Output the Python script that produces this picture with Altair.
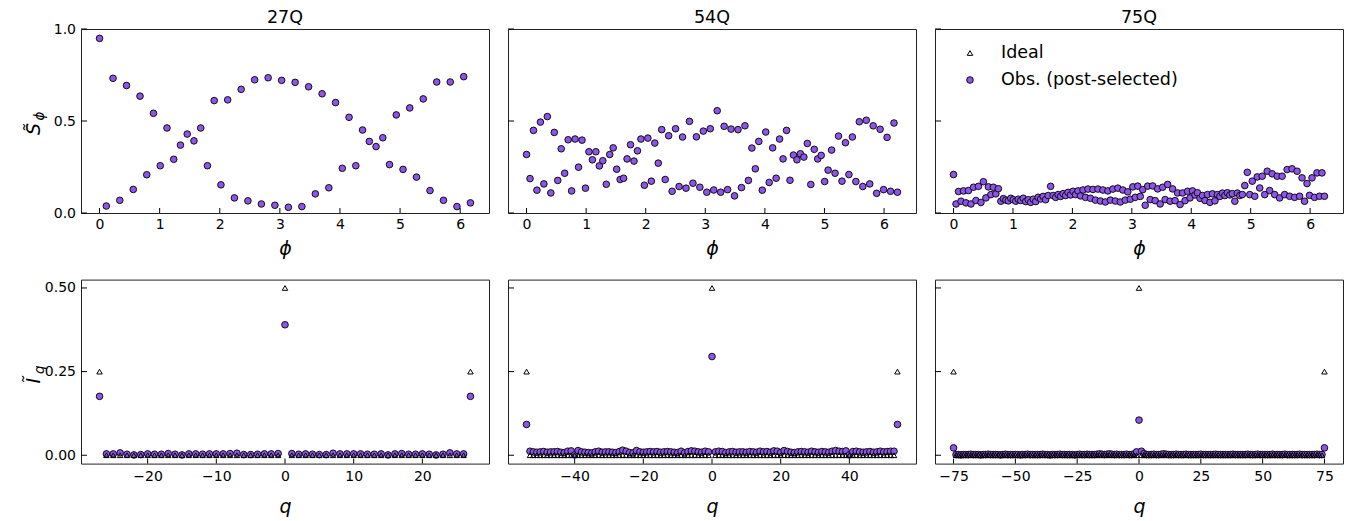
import altair as alt
import numpy as np
import pandas as pd

FONT = "DejaVu Sans"
PURPLE = "#8D55E8"
W, H = 408, 184

PANEL_TITLES = ["27Q", "54Q", "75Q"]
LEGEND_LABELS = ["Ideal", "Obs. (post-selected)"]

# ---- top row: S_phi observed (post-selected) ----
S27 = [0.949, 0.038, 0.732, 0.069, 0.693, 0.128, 0.635, 0.208, 0.542, 0.257,
       0.462, 0.292, 0.369, 0.429, 0.392, 0.462, 0.257, 0.611, 0.153, 0.615,
       0.082, 0.672, 0.066, 0.724, 0.049, 0.735, 0.042, 0.721, 0.031, 0.710,
       0.035, 0.686, 0.104, 0.648, 0.137, 0.600, 0.243, 0.520, 0.257, 0.451,
       0.389, 0.361, 0.409, 0.263, 0.533, 0.237, 0.571, 0.195, 0.620, 0.122,
       0.712, 0.069, 0.712, 0.035, 0.741, 0.055]

S54 = [0.318, 0.187, 0.449, 0.124, 0.494, 0.158, 0.524, 0.109, 0.438, 0.177,
       0.349, 0.216, 0.398, 0.120, 0.402, 0.249, 0.396, 0.135, 0.333, 0.289,
       0.333, 0.256, 0.284, 0.156, 0.318, 0.354, 0.238, 0.182, 0.189, 0.294,
       0.371, 0.282, 0.338, 0.402, 0.151, 0.407, 0.173, 0.380, 0.271, 0.453,
       0.182, 0.420, 0.118, 0.458, 0.144, 0.413, 0.135, 0.498, 0.162, 0.414,
       0.140, 0.445, 0.113, 0.458, 0.125, 0.556, 0.113, 0.471, 0.127, 0.456,
       0.093, 0.453, 0.138, 0.474, 0.177, 0.353, 0.240, 0.389, 0.124, 0.440,
       0.166, 0.354, 0.189, 0.402, 0.294, 0.449, 0.178, 0.315, 0.289, 0.322,
       0.304, 0.378, 0.155, 0.346, 0.294, 0.313, 0.171, 0.233, 0.342, 0.216,
       0.418, 0.173, 0.382, 0.209, 0.413, 0.171, 0.496, 0.144, 0.504, 0.158,
       0.474, 0.107, 0.455, 0.127, 0.411, 0.118, 0.489, 0.113]

S75 = [0.209, 0.049, 0.117, 0.064, 0.120, 0.055, 0.122, 0.049, 0.140, 0.068,
       0.145, 0.057, 0.170, 0.082, 0.142, 0.100, 0.140, 0.104, 0.132, 0.064,
       0.078, 0.070, 0.066, 0.080, 0.072, 0.064, 0.075, 0.068, 0.080, 0.062,
       0.072, 0.058, 0.075, 0.062, 0.085, 0.076, 0.090, 0.072, 0.095, 0.145,
       0.095, 0.085, 0.100, 0.090, 0.105, 0.095, 0.112, 0.098, 0.118, 0.100,
       0.120, 0.093, 0.125, 0.085, 0.130, 0.080, 0.128, 0.070, 0.130, 0.065,
       0.125, 0.060, 0.120, 0.070, 0.130, 0.065, 0.135, 0.060, 0.125, 0.070,
       0.115, 0.075, 0.142, 0.085, 0.146, 0.090, 0.127, 0.042, 0.146, 0.073,
       0.147, 0.067, 0.131, 0.049, 0.140, 0.073, 0.155, 0.064, 0.131, 0.067,
       0.109, 0.046, 0.109, 0.067, 0.118, 0.082, 0.120, 0.098, 0.110, 0.080,
       0.095, 0.068, 0.100, 0.058, 0.104, 0.066, 0.100, 0.090, 0.108, 0.095,
       0.110, 0.098, 0.105, 0.064, 0.108, 0.095, 0.100, 0.149, 0.221, 0.100,
       0.173, 0.091, 0.196, 0.136, 0.200, 0.100, 0.227, 0.122, 0.213, 0.100,
       0.200, 0.082, 0.200, 0.100, 0.236, 0.091, 0.240, 0.085, 0.227, 0.091,
       0.191, 0.064, 0.160, 0.096, 0.191, 0.085, 0.218, 0.091, 0.218, 0.091]

# ---- bottom row: I_q ----
# 27Q: q = -27..27
I27_EDGE, I27_CENTER = 0.176, 0.390
I27_NEG = [0.004, 0.004, 0.007, 0.003, 0.001, 0.002, 0.004, 0.003, 0.003, 0.005,
           0.003, 0.001, 0.004, 0.004, 0.003, 0.004, 0.004, 0.004, 0.005, 0.006,
           0.002, 0.002, 0.003, 0.004, 0.004, 0.005]
I27_POS = [0.005, 0.003, 0.004, 0.003, 0.002, 0.002, 0.006, 0.004, 0.004, 0.004,
           0.004, 0.003, 0.003, 0.004, 0.001, 0.004, 0.005, 0.003, 0.003, 0.004,
           0.003, 0.001, 0.003, 0.007, 0.004, 0.004]
# 54Q: q = -54..54
I54_EDGE, I54_CENTER = 0.092, 0.295
I54_NEG = [0.012, 0.010, 0.009, 0.010, 0.011, 0.009, 0.010, 0.010, 0.011, 0.009,
           0.008, 0.012, 0.013, 0.001, 0.014, 0.010, 0.009, 0.008, 0.007, 0.010,
           0.012, 0.009, 0.010, 0.010, 0.009, 0.008, 0.011, 0.015, 0.012, 0.008,
           0.007, 0.014, 0.010, 0.009, 0.010, 0.011, 0.010, 0.011, 0.009, 0.010,
           0.011, 0.010, 0.009, 0.008, 0.012, 0.007, 0.011, 0.013, 0.012, 0.010,
           0.009, 0.012, 0.010]
I54_POS = [0.010, 0.012, 0.011, 0.008, 0.010, 0.011, 0.009, 0.010, 0.010, 0.009,
           0.011, 0.010, 0.009, 0.012, 0.010, 0.011, 0.009, 0.013, 0.012, 0.008,
           0.014, 0.011, 0.009, 0.008, 0.010, 0.011, 0.010, 0.009, 0.012, 0.010,
           0.009, 0.011, 0.010, 0.009, 0.012, 0.014, 0.012, 0.011, 0.013, 0.001,
           0.011, 0.012, 0.010, 0.009, 0.010, 0.011, 0.009, 0.010, 0.012, 0.010,
           0.011, 0.012, 0.012]
# 75Q: q = -75..75
I75_EDGE, I75_CENTER = 0.022, 0.105
I75_NEG = [0.002, 0.002, 0.001, 0.002, 0.002, 0.002, 0.003, 0.002, 0.002, 0.002,
           0.001, 0.002, 0.002, 0.003, 0.002, 0.002, 0.002, 0.002, 0.001, 0.002,
           0.003, 0.002, 0.002, 0.002, 0.002, 0.002, 0.001, 0.002, 0.002, 0.003,
           0.002, 0.002, 0.002, 0.002, 0.002, 0.003, 0.002, 0.002, 0.001, 0.002,
           0.002, 0.002, 0.003, 0.002, 0.002, 0.002, 0.002, 0.002, 0.001, 0.002,
           0.003, 0.002, 0.002, 0.003, 0.002, 0.002, 0.002, 0.003, 0.004, 0.003,
           0.002, 0.003, 0.004, 0.003, 0.002, 0.003, 0.002, 0.002, 0.002, 0.003,
           0.002, 0.002, 0.004, 0.010]
I75_POS = [0.012, 0.005, 0.002, 0.002, 0.002, 0.003, 0.002, 0.002, 0.003, 0.004,
           0.003, 0.002, 0.002, 0.002, 0.003, 0.002, 0.002, 0.002, 0.003, 0.002,
           0.002, 0.002, 0.002, 0.002, 0.003, 0.002, 0.002, 0.002, 0.002, 0.002,
           0.003, 0.002, 0.002, 0.002, 0.002, 0.002, 0.002, 0.003, 0.002, 0.002,
           0.002, 0.002, 0.002, 0.003, 0.002, 0.002, 0.002, 0.003, 0.002, 0.002,
           0.002, 0.002, 0.002, 0.003, 0.002, 0.002, 0.002, 0.002, 0.003, 0.002,
           0.002, 0.002, 0.002, 0.002, 0.003, 0.002, 0.002, 0.002, 0.002, 0.002,
           0.002, 0.003, 0.002, 0.002]
IDEAL_EDGE, IDEAL_CENTER = 0.25, 0.5

TOP_XTICKS = [0, 1, 2, 3, 4, 5, 6]
BOT_XTICKS = [[-20, -10, 0, 10, 20], [-40, -20, 0, 20, 40], [-75, -50, -25, 0, 25, 50, 75]]
TOP_YTICKS = [0.0, 0.5, 1.0]
BOT_YTICKS = [0.0, 0.25, 0.5]


def phi_frame(vals):
    n = len(vals)
    return pd.DataFrame({"x": [2 * np.pi * k / n for k in range(n)], "y": vals})


def q_frame(Q, edge, center, neg, pos):
    q = list(range(-Q, Q + 1))
    obs = [edge] + neg + [center] + pos + [edge]
    ideal = [IDEAL_EDGE] + [0.0] * len(neg) + [IDEAL_CENTER] + [0.0] * len(pos) + [IDEAL_EDGE]
    return pd.DataFrame({"x": q, "y": obs, "ideal": ideal})


def text_layer(txt, x, y, size, italic=False, angle=0, align="center", baseline="middle"):
    return alt.Chart(pd.DataFrame({"t": [txt]})).mark_text(
        font=FONT, fontSize=size, fontStyle="italic" if italic else "normal",
        angle=angle, align=align, baseline=baseline, color="black"
    ).encode(x=alt.value(x), y=alt.value(y), text="t:N")


def panel(df, xdom, xticks, ydom, yticks, yfmt, xtitle, show_y, title=None,
          ideal=False, ytitle=None, legend=False, xtitle_pad=6, xlabel_pad=4.5):
    xaxis = alt.Axis(values=xticks, format="d", title=xtitle, titleFont=FONT,
                     titleFontStyle="italic", titleFontWeight="normal", titleFontSize=19,
                     titleColor="black", labelPadding=xlabel_pad, titlePadding=xtitle_pad,
                     ticks=False, tickSize=0, domain=False, grid=False, labelFlush=False)
    yaxis = alt.Axis(values=yticks, format=yfmt, title=None, labelPadding=5.5,
                     ticks=False, tickSize=0, domain=False, grid=False, labelFlush=False) if show_y else None
    xs = alt.Scale(domain=xdom, nice=False, zero=False)
    ys = alt.Scale(domain=ydom, nice=False, zero=False)

    def X(f):
        return alt.X(f, type="quantitative", scale=xs, axis=xaxis)

    def Y(f):
        return alt.Y(f, type="quantitative", scale=ys, axis=yaxis)

    layers = []
    layers.append(alt.Chart(df).mark_point(
        shape="circle", filled=True, fill=PURPLE, stroke="black", strokeWidth=0.9,
        size=44, opacity=1).encode(x=X("x"), y=Y("y")))
    if ideal:
        layers.append(alt.Chart(df).mark_point(
            shape="triangle-up", filled=False, fill="transparent", stroke="black",
            strokeWidth=1, size=30, opacity=1).encode(x=X("x"), y=Y("ideal")))
    xt = pd.DataFrame({"v": xticks})
    layers.append(alt.Chart(xt).mark_rule(color="black", strokeWidth=1).encode(
        x=X("v"), y=alt.value(H), y2=alt.value(H - 5)))
    yt = pd.DataFrame({"v": yticks})
    layers.append(alt.Chart(yt).mark_rule(color="black", strokeWidth=1).encode(
        y=Y("v"), x=alt.value(0), x2=alt.value(6)))
    if ytitle is not None:
        main, sub, main_pos, sub_pos = ytitle
        layers.append(text_layer(main, main_pos[0], main_pos[1], 19, italic=True, angle=270))
        layers.append(text_layer(sub, sub_pos[0], sub_pos[1], 13.5, italic=True, angle=270))
    if title is not None:
        layers.append(text_layer(title, W / 2, -20, 17.5, baseline="top"))
    if legend:
        layers.append(alt.Chart(pd.DataFrame({"t": [LEGEND_LABELS[0]]})).mark_point(
            shape="triangle-up", filled=False, fill="transparent", stroke="black",
            strokeWidth=1, size=30, opacity=1).encode(x=alt.value(35), y=alt.value(24)))
        layers.append(alt.Chart(pd.DataFrame({"t": [LEGEND_LABELS[1]]})).mark_point(
            shape="circle", filled=True, fill=PURPLE, stroke="black", strokeWidth=0.9,
            size=44, opacity=1).encode(x=alt.value(35), y=alt.value(51)))
        layers.append(text_layer(LEGEND_LABELS[0], 66, 24, 17.5, align="left"))
        layers.append(text_layer(LEGEND_LABELS[1], 66, 51, 17.5, align="left"))
    return alt.layer(*layers).properties(width=W, height=H)


panels = []
for i, (vals, ttl) in enumerate(zip([S27, S54, S75], PANEL_TITLES)):
    df = phi_frame(vals)
    last = df["x"].iloc[-1]
    m = 0.05 * last
    panels.append(panel(df, [-m, last + m], TOP_XTICKS, [0, 1], TOP_YTICKS, ".1f", "ϕ",
                        show_y=(i == 0), title=ttl,
                        ytitle=("S̃", "ϕ", (-47, 100), (-41, 87)) if i == 0 else None,
                        legend=(i == 2), xtitle_pad=8, xlabel_pad=4.5))

specs = [(27, I27_EDGE, I27_CENTER, I27_NEG, I27_POS),
         (54, I54_EDGE, I54_CENTER, I54_NEG, I54_POS),
         (75, I75_EDGE, I75_CENTER, I75_NEG, I75_POS)]
for i, (Q, e, c, n, p) in enumerate(specs):
    df = q_frame(Q, e, c, n, p)
    m = 0.1 * Q
    panels.append(panel(df, [-Q - m, Q + m], BOT_XTICKS[i], [-0.025, 0.525], BOT_YTICKS, ".2f", "q",
                        show_y=(i == 0), ideal=True,
                        ytitle=("Ĩ", "q", (-47, 101), (-41, 90)) if i == 0 else None,
                        xtitle_pad=14, xlabel_pad=6))

chart = alt.concat(*panels, columns=3, spacing={"row": 66.6, "column": 19},
                   bounds="flush").properties(
    padding={"left": 16, "top": 0, "right": 0, "bottom": 0},
    background="white",
).configure_view(stroke="#222222", strokeWidth=1).configure_axis(
    labelFont=FONT, labelFontSize=14, labelColor="black"
)

chart.save("out.html", embed_options={"renderer": "svg", "actions": False})
